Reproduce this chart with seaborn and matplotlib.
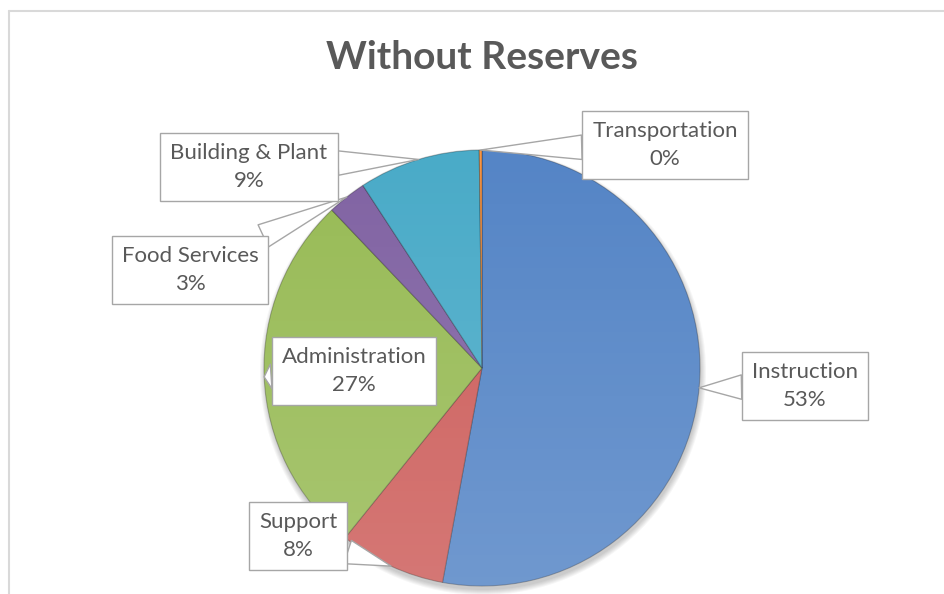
import numpy as np
import matplotlib.pyplot as plt
import seaborn as sns
from matplotlib.patches import Circle
from matplotlib.lines import Line2D

# Spending shares without reserves (percent)
categories = ["Instruction", "Support", "Administration", "Food Services",
              "Building & Plant", "Transportation"]
shares = [52.9, 7.9, 27.1, 2.9, 9.0, 0.2]
colors = ["#5585C6", "#CD5E5B", "#98BB56", "#8163A3", "#4AABC8", "#F79646"]

# label box centres, in pixels from the top-left corner
label_pos = [(805, 386), (298, 536), (354, 371), (190, 270), (249, 167), (665, 145)]

sns.set_theme(style="white")
plt.rcParams['font.family'] = ['Lato', 'DejaVu Sans']

W, H = 945, 594
fig = plt.figure(figsize=(W / 100, H / 100), dpi=100)
ax = fig.add_axes([0, 0, 1, 1])

cx, cy, r = 482, -368, 218

# soft shadow under the pie
for k in range(6):
    ax.add_patch(Circle((cx + 1, cy - 4), r + k, fc="black", ec="none",
                        alpha=0.035, zorder=0))

wedges, _ = ax.pie(shares, colors=colors, startangle=90, counterclock=False,
                   radius=r, center=(cx, cy), frame=True,
                   wedgeprops=dict(edgecolor=(0, 0, 0, 0.25), linewidth=0.8))

# light gradient over the pie
grad = np.linspace(0, 1, 256)[:, None] * np.ones((1, 2))
img = np.ones((256, 2, 4))
img[..., 3] = 0.16 * grad
im = ax.imshow(img, extent=(cx - r, cx + r, cy - r, cy + r), origin="upper",
               aspect="auto", zorder=2)
im.set_clip_path(Circle((cx, cy), r, transform=ax.transData))

# callout labels
for w, name, val, (lx, ly) in zip(wedges, categories, shares, label_pos):
    mid = np.deg2rad((w.theta1 + w.theta2) / 2)
    tip = (cx + r * np.cos(mid), cy + r * np.sin(mid))
    ax.annotate(f"{name}\n{val:.0f}%", xy=tip, xytext=(lx, -ly),
                ha="center", va="center", fontsize=16, color="#595959",
                linespacing=1.45, zorder=5,
                bbox=dict(boxstyle="square,pad=0.45", fc="white", ec="#a6a6a6", lw=1),
                arrowprops=dict(arrowstyle="wedge,tail_width=1.1", fc="white",
                                ec="#a6a6a6", lw=1, shrinkA=0, shrinkB=0))

ax.text(482, -57, "Without Reserves", ha="center", va="center",
        fontsize=28, fontweight="bold", color="#595959")

ax.set_xlim(0, W)
ax.set_ylim(-H, 0)
ax.set_aspect("equal")
ax.axis("off")

# chart area frame (right and bottom edges fall outside the picture)
fig.add_artist(Line2D([9 / W, 9 / W], [0, 1 - 11 / H], color="#d9d9d9", lw=1.5))
fig.add_artist(Line2D([9 / W, 1], [1 - 11 / H, 1 - 11 / H], color="#d9d9d9", lw=1.5))

fig.savefig("out.png", dpi=100, facecolor="white")
